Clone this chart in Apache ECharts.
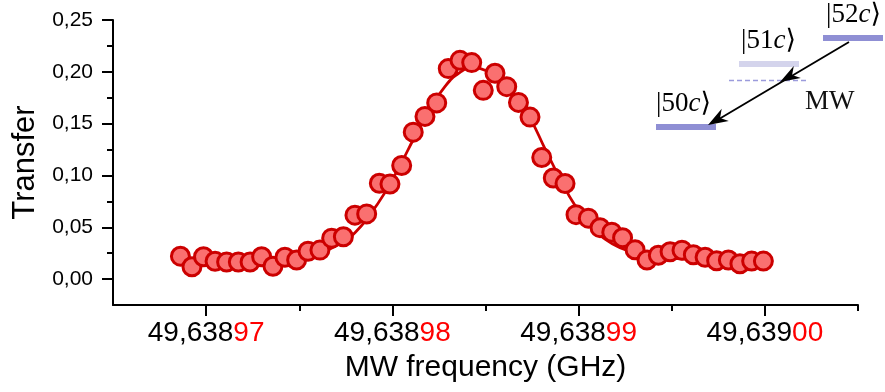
<!DOCTYPE html>
<html><head><meta charset="utf-8">
<script src="https://cdn.jsdelivr.net/npm/echarts@6/dist/echarts.min.js"></script>
<style>html,body{margin:0;padding:0;background:#fff}#c{width:885px;height:392px}</style>
</head><body><div id="c"></div>
<script>
// frequency offset in units of 1e-5 GHz on top of 49,638 GHz (suffix digits)
const freq = [96.862,96.924,96.986,97.048,97.110,97.173,97.236,97.298,97.359,97.423,
  97.486,97.547,97.611,97.674,97.737,97.799,97.862,97.930,97.987,98.050,
  98.112,98.175,98.238,98.300,98.363,98.426,98.488,98.551,98.614,98.677,
  98.739,98.802,98.864,98.927,98.986,99.052,99.115,99.178,99.236,99.303,
  99.367,99.428,99.491,99.555,99.616,99.679,99.741,99.804,99.866,99.929,99.992];
const transfer = [0.0221,0.0119,0.0216,0.0172,0.0165,0.0165,0.0165,0.0216,0.0124,0.0211,
  0.0184,0.0269,0.0280,0.0395,0.0409,0.0617,0.0629,0.0925,0.0917,0.1096,
  0.1418,0.1570,0.1700,0.2031,0.2111,0.2089,0.1821,0.1986,0.1857,0.1705,
  0.1563,0.1173,0.0975,0.0922,0.0622,0.0588,0.0496,0.0453,0.0399,0.0283,
  0.0184,0.0230,0.0264,0.0279,0.0235,0.0211,0.0177,0.0184,0.0148,0.0174,0.0174];
const fitFreq = [96.833,96.967,97.101,97.236,97.370,97.504,97.611,97.719,97.799,97.880,
  97.960,98.041,98.121,98.202,98.283,98.363,98.428,98.497,98.578,98.658,
  98.739,98.819,98.900,98.981,99.061,99.142,99.222,99.330,99.437,99.598,
  99.759,99.920,100.028];
const fitTransfer = [0.0162,0.0164,0.0167,0.0172,0.0182,0.0206,0.0254,0.0341,0.0448,0.0622,
  0.0835,0.1096,0.1376,0.1637,0.1860,0.1995,0.2039,0.2015,0.1918,0.1763,
  0.1551,0.1260,0.0970,0.0709,0.0515,0.0385,0.0303,0.0240,0.0211,0.0191,
  0.0179,0.0172,0.0169];
const xTickValues = [97, 98, 99, 100];
const xTickPrefix = ['49,638', '49,638', '49,638', '49,639'];
const xTickSuffix = ['97', '98', '99', '00'];
const xMinorTicks = [97.5, 98.5, 99.5, 100.5];
const yTickValues = [0, 0.05, 0.10, 0.15, 0.20, 0.25];
const yTickLabels = ['0,00', '0,05', '0,10', '0,15', '0,20', '0,25'];
const yMinorTicks = [0.025, 0.075, 0.125, 0.175, 0.225];
const levelNumbers = ['52', '51', '50'];
const xName = 'MW frequency (GHz)';
const yName = 'Transfer';
const mwLabel = 'MW';

const FONT = 'Liberation Sans, Arial, sans-serif';
const SERIF = 'Liberation Serif, DejaVu Serif, serif';

function arrowHead(tx, ty, fx, fy, L, W, notch) {
  const dx = tx - fx, dy = ty - fy, len = Math.hypot(dx, dy);
  const ux = dx / len, uy = dy / len, nx = -uy, ny = ux;
  return [[tx, ty],
    [tx - L * ux + W * nx, ty - L * uy + W * ny],
    [tx - (L - notch) * ux, ty - (L - notch) * uy],
    [tx - L * ux - W * nx, ty - L * uy - W * ny]];
}
function ket(n) { return '{n||' + n + '}{i|c}{n|\u27E9}'; }
const ketRich = {
  n: { fontFamily: SERIF, fontSize: 27, color: '#111' },
  i: { fontFamily: SERIF, fontSize: 27, fontStyle: 'italic', color: '#111' }
};

const chart = echarts.init(document.getElementById('c'), null, { renderer: 'canvas' });
chart.setOption({
  animation: false,
  backgroundColor: '#fff',
  grid: { left: 113, top: 20, right: 27, bottom: 87, containLabel: false, outerBoundsMode: 'none' },
  xAxis: [
    {
      type: 'value', min: 96.5, max: 100.5, position: 'bottom',
      axisLine: { show: true, onZero: false, lineStyle: { color: '#000', width: 2 } },
      splitLine: { show: false },
      axisTick: { show: true, customValues: xTickValues, length: 11, lineStyle: { color: '#000', width: 2 } },
      axisLabel: {
        customValues: xTickValues, margin: 14,
        formatter: v => { const i = xTickValues.indexOf(v); return i < 0 ? '' : '{a|' + xTickPrefix[i] + '}{b|' + xTickSuffix[i] + '}'; },
        rich: {
          a: { fontFamily: FONT, fontSize: 28, color: '#000' },
          b: { fontFamily: FONT, fontSize: 28, color: '#ff0000' }
        }
      },
      name: xName, nameLocation: 'middle', nameGap: 48,
      nameTextStyle: { fontFamily: FONT, fontSize: 30, color: '#000', verticalAlign: 'top' }
    },
    {
      type: 'value', min: 96.5, max: 100.5, position: 'bottom', gridIndex: 0,
      axisLine: { show: false, onZero: false }, splitLine: { show: false }, axisLabel: { show: false },
      axisTick: { show: true, customValues: xMinorTicks, length: 6, lineStyle: { color: '#000', width: 2 } }
    }
  ],
  yAxis: [
    {
      type: 'value', min: -0.025, max: 0.25, position: 'left',
      axisLine: { show: true, onZero: false, lineStyle: { color: '#000', width: 2 } },
      splitLine: { show: false },
      axisTick: { show: true, customValues: yTickValues, length: 11, lineStyle: { color: '#000', width: 2 } },
      axisLabel: {
        customValues: yTickValues, margin: 20, fontFamily: FONT, fontSize: 21, color: '#000',
        formatter: v => { const i = yTickValues.indexOf(v); return i < 0 ? '' : yTickLabels[i]; }
      },
      name: yName, nameLocation: 'middle', nameGap: 72, nameRotate: 90,
      nameTextStyle: { fontFamily: FONT, fontSize: 31, color: '#000' }
    },
    {
      type: 'value', min: -0.025, max: 0.25, position: 'left', gridIndex: 0,
      axisLine: { show: false, onZero: false }, splitLine: { show: false }, axisLabel: { show: false },
      axisTick: { show: true, customValues: yMinorTicks, length: 6, lineStyle: { color: '#000', width: 2 } }
    }
  ],
  series: [
    {
      type: 'line', xAxisIndex: 0, yAxisIndex: 0, smooth: true, showSymbol: false, z: 2,
      data: fitFreq.map((f, i) => [f, fitTransfer[i]]),
      lineStyle: { color: '#cc0000', width: 2.8 }
    },
    {
      type: 'scatter', xAxisIndex: 0, yAxisIndex: 0, z: 3, symbol: 'circle', symbolSize: 18,
      data: freq.map((f, i) => [f, transfer[i]]),
      itemStyle: { color: '#fa7070', borderColor: '#cc0000', borderWidth: 3, opacity: 1 }
    }
  ],
  graphic: [
    { type: 'rect', shape: { x: 823, y: 35, width: 60, height: 6 }, style: { fill: '#8f8fd4' } },
    { type: 'rect', shape: { x: 739, y: 61, width: 60, height: 6 }, style: { fill: '#d4d4ec' } },
    { type: 'rect', shape: { x: 656, y: 124, width: 60, height: 6 }, style: { fill: '#8f8fd4' } },
    { type: 'line', shape: { x1: 729, y1: 80.5, x2: 807, y2: 80.5 }, style: { stroke: '#9b9bdc', lineWidth: 1.5, lineDash: [5, 3] } },
    { type: 'text', x: 826, y: 1, style: { text: ket(levelNumbers[0]), rich: ketRich } },
    { type: 'text', x: 741, y: 27, style: { text: ket(levelNumbers[1]), rich: ketRich } },
    { type: 'text', x: 656, y: 90, style: { text: ket(levelNumbers[2]), rich: ketRich } },
    { type: 'text', x: 805, y: 88, style: { text: mwLabel, fontFamily: SERIF, fontSize: 27, fill: '#111' } },
    { type: 'line', shape: { x1: 849, y1: 42, x2: 714, y2: 122 }, style: { stroke: '#000', lineWidth: 1.8 } },
    { type: 'polygon', shape: { points: arrowHead(780, 82, 849, 42, 20, 7, 6) }, style: { fill: '#000' } },
    { type: 'polygon', shape: { points: arrowHead(708, 125, 849, 42, 20, 7, 6) }, style: { fill: '#000' } }
  ]
});
</script></body></html>
